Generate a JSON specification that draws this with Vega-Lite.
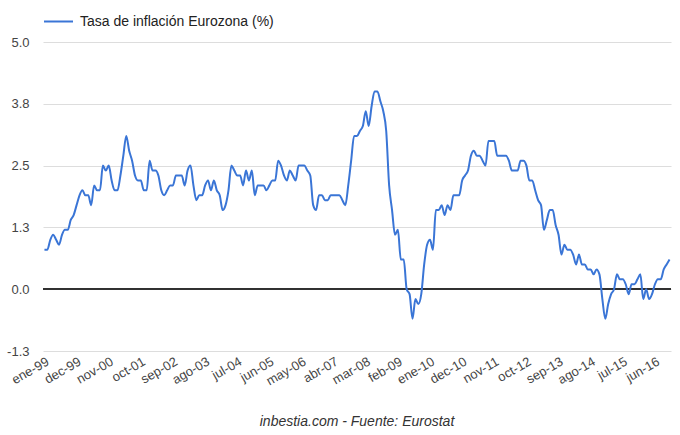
{
  "$schema": "https://vega.github.io/schema/vega-lite/v6.json",
  "width": 628,
  "height": 309,
  "autosize": {"type": "none"},
  "padding": {"left": 43, "top": 42, "right": 9, "bottom": 84},
  "background": "white",
  "title": {
    "text": "inbestia.com - Fuente: Eurostat",
    "orient": "bottom",
    "anchor": "middle",
    "font": "Liberation Sans",
    "fontSize": 14,
    "fontStyle": "italic",
    "fontWeight": "normal",
    "color": "#333333",
    "offset": 27
  },
  "config": {
    "view": {"stroke": null},
    "font": "Liberation Sans"
  },
  "data": {
    "values": [
      {"mes":"ene-99","v":0.8},{"mes":"feb-99","v":0.8},{"mes":"mar-99","v":1.0},{"mes":"abr-99","v":1.1},{"mes":"may-99","v":1.0},{"mes":"jun-99","v":0.9},{"mes":"jul-99","v":1.1},{"mes":"ago-99","v":1.2},{"mes":"sep-99","v":1.2},{"mes":"oct-99","v":1.4},{"mes":"nov-99","v":1.5},{"mes":"dec-99","v":1.7},
      {"mes":"ene-00","v":1.9},{"mes":"feb-00","v":2.0},{"mes":"mar-00","v":1.9},{"mes":"abr-00","v":1.9},{"mes":"may-00","v":1.7},{"mes":"jun-00","v":2.1},{"mes":"jul-00","v":2.0},{"mes":"ago-00","v":2.0},{"mes":"sep-00","v":2.5},{"mes":"oct-00","v":2.4},{"mes":"nov-00","v":2.5},{"mes":"dec-00","v":2.2},
      {"mes":"ene-01","v":2.0},{"mes":"feb-01","v":2.0},{"mes":"mar-01","v":2.3},{"mes":"abr-01","v":2.7},{"mes":"may-01","v":3.1},{"mes":"jun-01","v":2.8},{"mes":"jul-01","v":2.6},{"mes":"ago-01","v":2.3},{"mes":"sep-01","v":2.2},{"mes":"oct-01","v":2.2},{"mes":"nov-01","v":2.0},{"mes":"dec-01","v":2.0},
      {"mes":"ene-02","v":2.6},{"mes":"feb-02","v":2.4},{"mes":"mar-02","v":2.4},{"mes":"abr-02","v":2.3},{"mes":"may-02","v":2.0},{"mes":"jun-02","v":1.9},{"mes":"jul-02","v":2.0},{"mes":"ago-02","v":2.1},{"mes":"sep-02","v":2.1},{"mes":"oct-02","v":2.3},{"mes":"nov-02","v":2.3},{"mes":"dec-02","v":2.3},
      {"mes":"ene-03","v":2.1},{"mes":"feb-03","v":2.4},{"mes":"mar-03","v":2.5},{"mes":"abr-03","v":2.1},{"mes":"may-03","v":1.8},{"mes":"jun-03","v":1.9},{"mes":"jul-03","v":1.9},{"mes":"ago-03","v":2.1},{"mes":"sep-03","v":2.2},{"mes":"oct-03","v":2.0},{"mes":"nov-03","v":2.2},{"mes":"dec-03","v":2.0},
      {"mes":"ene-04","v":1.9},{"mes":"feb-04","v":1.6},{"mes":"mar-04","v":1.7},{"mes":"abr-04","v":2.0},{"mes":"may-04","v":2.5},{"mes":"jun-04","v":2.4},{"mes":"jul-04","v":2.3},{"mes":"ago-04","v":2.3},{"mes":"sep-04","v":2.1},{"mes":"oct-04","v":2.4},{"mes":"nov-04","v":2.2},{"mes":"dec-04","v":2.4},
      {"mes":"ene-05","v":1.9},{"mes":"feb-05","v":2.1},{"mes":"mar-05","v":2.1},{"mes":"abr-05","v":2.1},{"mes":"may-05","v":2.0},{"mes":"jun-05","v":2.1},{"mes":"jul-05","v":2.2},{"mes":"ago-05","v":2.2},{"mes":"sep-05","v":2.6},{"mes":"oct-05","v":2.5},{"mes":"nov-05","v":2.3},{"mes":"dec-05","v":2.2},
      {"mes":"ene-06","v":2.4},{"mes":"feb-06","v":2.3},{"mes":"mar-06","v":2.2},{"mes":"abr-06","v":2.5},{"mes":"may-06","v":2.5},{"mes":"jun-06","v":2.5},{"mes":"jul-06","v":2.4},{"mes":"ago-06","v":2.3},{"mes":"sep-06","v":1.7},{"mes":"oct-06","v":1.6},{"mes":"nov-06","v":1.9},{"mes":"dec-06","v":1.9},
      {"mes":"ene-07","v":1.8},{"mes":"feb-07","v":1.8},{"mes":"mar-07","v":1.9},{"mes":"abr-07","v":1.9},{"mes":"may-07","v":1.9},{"mes":"jun-07","v":1.9},{"mes":"jul-07","v":1.8},{"mes":"ago-07","v":1.7},{"mes":"sep-07","v":2.1},{"mes":"oct-07","v":2.6},{"mes":"nov-07","v":3.1},{"mes":"dec-07","v":3.1},
      {"mes":"ene-08","v":3.2},{"mes":"feb-08","v":3.3},{"mes":"mar-08","v":3.6},{"mes":"abr-08","v":3.3},{"mes":"may-08","v":3.7},{"mes":"jun-08","v":4.0},{"mes":"jul-08","v":4.0},{"mes":"ago-08","v":3.8},{"mes":"sep-08","v":3.6},{"mes":"oct-08","v":3.2},{"mes":"nov-08","v":2.1},{"mes":"dec-08","v":1.6},
      {"mes":"ene-09","v":1.1},{"mes":"feb-09","v":1.2},{"mes":"mar-09","v":0.6},{"mes":"abr-09","v":0.6},{"mes":"may-09","v":0.0},{"mes":"jun-09","v":-0.1},{"mes":"jul-09","v":-0.6},{"mes":"ago-09","v":-0.2},{"mes":"sep-09","v":-0.3},{"mes":"oct-09","v":-0.1},{"mes":"nov-09","v":0.5},{"mes":"dec-09","v":0.9},
      {"mes":"ene-10","v":1.0},{"mes":"feb-10","v":0.8},{"mes":"mar-10","v":1.6},{"mes":"abr-10","v":1.6},{"mes":"may-10","v":1.7},{"mes":"jun-10","v":1.5},{"mes":"jul-10","v":1.7},{"mes":"ago-10","v":1.6},{"mes":"sep-10","v":1.9},{"mes":"oct-10","v":1.9},{"mes":"nov-10","v":1.9},{"mes":"dec-10","v":2.2},
      {"mes":"ene-11","v":2.3},{"mes":"feb-11","v":2.4},{"mes":"mar-11","v":2.7},{"mes":"abr-11","v":2.8},{"mes":"may-11","v":2.7},{"mes":"jun-11","v":2.7},{"mes":"jul-11","v":2.6},{"mes":"ago-11","v":2.5},{"mes":"sep-11","v":3.0},{"mes":"oct-11","v":3.0},{"mes":"nov-11","v":3.0},{"mes":"dec-11","v":2.7},
      {"mes":"ene-12","v":2.7},{"mes":"feb-12","v":2.7},{"mes":"mar-12","v":2.7},{"mes":"abr-12","v":2.6},{"mes":"may-12","v":2.4},{"mes":"jun-12","v":2.4},{"mes":"jul-12","v":2.4},{"mes":"ago-12","v":2.6},{"mes":"sep-12","v":2.6},{"mes":"oct-12","v":2.5},{"mes":"nov-12","v":2.2},{"mes":"dec-12","v":2.2},
      {"mes":"ene-13","v":2.0},{"mes":"feb-13","v":1.8},{"mes":"mar-13","v":1.7},{"mes":"abr-13","v":1.2},{"mes":"may-13","v":1.4},{"mes":"jun-13","v":1.6},{"mes":"jul-13","v":1.6},{"mes":"ago-13","v":1.3},{"mes":"sep-13","v":1.1},{"mes":"oct-13","v":0.7},{"mes":"nov-13","v":0.9},{"mes":"dec-13","v":0.8},
      {"mes":"ene-14","v":0.8},{"mes":"feb-14","v":0.7},{"mes":"mar-14","v":0.5},{"mes":"abr-14","v":0.7},{"mes":"may-14","v":0.5},{"mes":"jun-14","v":0.5},{"mes":"jul-14","v":0.4},{"mes":"ago-14","v":0.4},{"mes":"sep-14","v":0.3},{"mes":"oct-14","v":0.4},{"mes":"nov-14","v":0.3},{"mes":"dec-14","v":-0.2},
      {"mes":"ene-15","v":-0.6},{"mes":"feb-15","v":-0.3},{"mes":"mar-15","v":-0.1},{"mes":"abr-15","v":0.0},{"mes":"may-15","v":0.3},{"mes":"jun-15","v":0.2},{"mes":"jul-15","v":0.2},{"mes":"ago-15","v":0.1},{"mes":"sep-15","v":-0.1},{"mes":"oct-15","v":0.1},{"mes":"nov-15","v":0.1},{"mes":"dec-15","v":0.2},
      {"mes":"ene-16","v":0.3},{"mes":"feb-16","v":-0.2},{"mes":"mar-16","v":0.0},{"mes":"abr-16","v":-0.2},{"mes":"may-16","v":-0.1},{"mes":"jun-16","v":0.1},{"mes":"jul-16","v":0.2},{"mes":"ago-16","v":0.2},{"mes":"sep-16","v":0.4},{"mes":"oct-16","v":0.5},{"mes":"nov-16","v":0.6}
    ]
  },
  "layer": [
    {
      "mark": {"type": "rule", "color": "#333333", "strokeWidth": 1},
      "encoding": {
        "y": {"datum": 0, "type": "quantitative"}
      }
    },
    {
      "mark": {"type": "line", "strokeWidth": 2, "interpolate": "monotone"},
      "encoding": {
        "x": {
          "field": "mes",
          "type": "ordinal",
          "sort": null,
          "scale": {"type": "point", "padding": 0.5},
          "axis": {
            "title": null,
            "values": ["ene-99","dec-99","nov-00","oct-01","sep-02","ago-03","jul-04","jun-05","may-06","abr-07","mar-08","feb-09","ene-10","dec-10","nov-11","oct-12","sep-13","ago-14","jul-15","jun-16"],
            "labelAngle": -30,
            "labelAlign": "right",
            "labelBaseline": "top",
            "labelPadding": 4,
            "labelFontSize": 13,
            "labelColor": "#444444",
            "labelFont": "Liberation Sans",
            "ticks": false,
            "domain": false,
            "grid": false
          }
        },
        "y": {
          "field": "v",
          "type": "quantitative",
          "scale": {"domain": [-1.25, 5], "nice": false, "zero": false},
          "axis": {
            "title": null,
            "values": [-1.25, 0, 1.25, 2.5, 3.75, 5],
            "labelExpr": "datum.value < 0 ? '-' + format(-datum.value, '.1f') : format(datum.value, '.1f')",
            "labelFontSize": 13,
            "labelColor": "#444444",
            "labelFont": "Liberation Sans",
            "labelPadding": 14,
            "ticks": false,
            "domain": false,
            "grid": true,
            "gridColor": "#dddddd",
            "gridWidth": 1
          }
        },
        "color": {
          "datum": "Tasa de inflación Eurozona (%)",
          "type": "nominal",
          "scale": {"range": ["#3a75d6"]},
          "legend": {
            "title": null,
            "orient": "none",
            "legendX": 0,
            "legendY": -36,
            "symbolType": "stroke",
            "symbolSize": 841,
            "symbolStrokeWidth": 2,
            "labelFontSize": 14,
            "labelColor": "#222222",
            "labelFont": "Liberation Sans",
            "labelOffset": 6,
            "labelLimit": 0
          }
        }
      }
    }
  ]
}
